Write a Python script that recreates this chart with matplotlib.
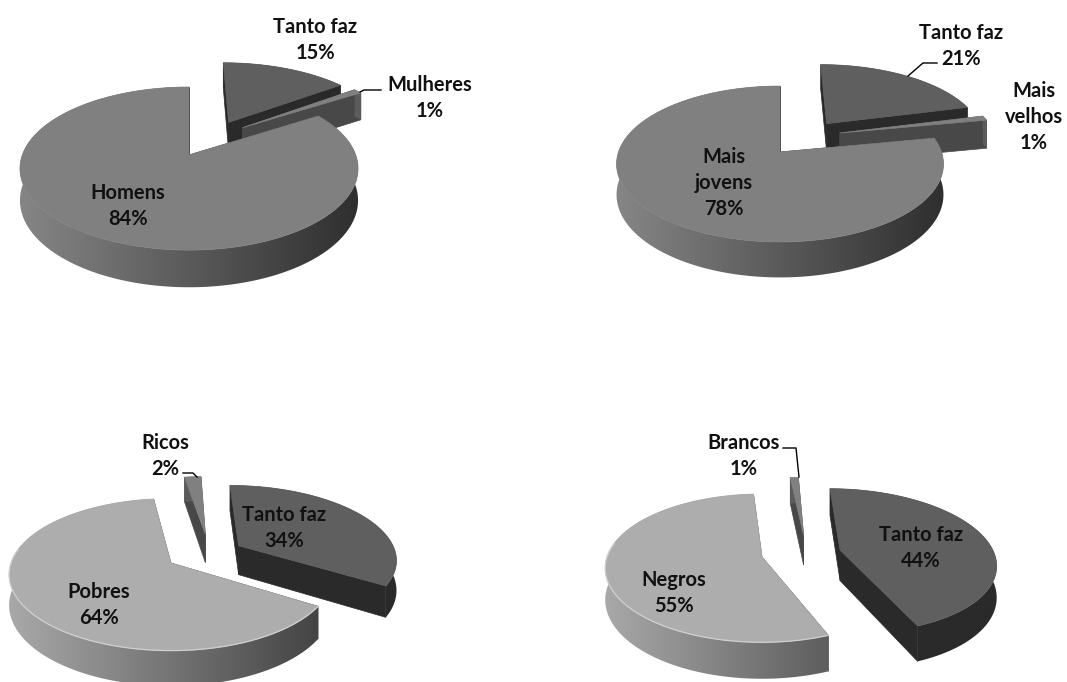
import numpy as np
import matplotlib
matplotlib.use("Agg")
import matplotlib.pyplot as plt
from matplotlib.colors import LinearSegmentedColormap
from matplotlib.patches import Polygon

plt.rcParams['font.family'] = ['Lato', 'DejaVu Sans']

# values of the four pies, clockwise from the top
cats_genero = ["Tanto faz", "Mulheres", "Homens"]
vals_genero = [15, 1, 84]
cats_idade = ["Tanto faz", "Mais\nvelhos", "Mais\njovens"]
vals_idade = [21, 1, 78]
cats_renda = ["Tanto faz", "Pobres", "Ricos"]
vals_renda = [34, 64, 2]
cats_cor = ["Tanto faz", "Negros", "Brancos"]
vals_cor = [44, 55, 1]

DARK = dict(top="#5f5f5f", left="#2a2a2a", right="#2a2a2a", cut="#2a2a2a", glow=None)
MID = dict(top="#808080", left="#858585", right="#2f2f2f", cut="#3a3a3a", glow=None)
LIGHT = dict(top="#adadad", left="#a8a8a8", right="#404040", cut="#404040", glow="#d0d0d0")
THIN = dict(top="#808080", left="#5c5c5c", right="#5c5c5c", cut="#484848", glow=None)

# cx, cy = apex of the pie, R/r = radii, k = perspective, h = thickness
# each slice: style, explode distance, explode direction (None = bisector)
pies = [
    dict(cats=cats_genero, vals=vals_genero, cx=189, cy=155, R=166.7, r=79.3, k=0.166, h=31,
         slices=[(DARK, 0.51, 30), (THIN, 0.5, 43), (MID, 0, None)], order=[0, 1, 2],
         text=[(315, 40), (430, 98), (128, 206)]),
    dict(cats=cats_idade, vals=vals_idade, cx=780, cy=152, R=161.5, r=76.1, k=0.154, h=30,
         slices=[(DARK, 0.5, None), (THIN, 0.465, 56), (MID, 0, None)], order=[0, 1, 2],
         text=[(961, 46), (1034, 117), (724, 183)]),
    dict(cats=cats_renda, vals=vals_renda, cx=171, cy=563, R=160, r=74.3, k=0.152, h=30,
         slices=[(DARK, 0.5, None), (LIGHT, 0, None), (THIN, 0.47, 29)], order=[2, 0, 1],
         text=[(284, 528), (99, 605), (165, 456)]),
    dict(cats=cats_cor, vals=vals_cor, cx=762, cy=557, R=155, r=72.5, k=0.15, h=31,
         slices=[(DARK, 0.52, None), (LIGHT, 0, None), (THIN, 0.42, 42)], order=[2, 0, 1],
         text=[(921, 548), (674, 593), (744, 456)]),
]

leaders = [
    ([360, 364, 381], [92, 90, 90]),
    ([908, 923, 937], [76, 63, 63]),
    ([183, 193, 197], [473, 473, 477]),
    ([783, 796, 799], [448, 448, 477]),
]


def project(p, X, Y):
    den = 1 + p["k"] * Y
    return p["cx"] + p["R"] * X / den, p["cy"] - p["r"] * Y / den, p["h"] / den


def draw_slice(ax, p, t0, t1, style, d, direction, z):
    mid = (t0 + t1) / 2 if direction is None else direction
    ox = d * np.sin(np.radians(mid))
    oy = d * np.cos(np.radians(mid))
    t = np.radians(np.linspace(t0, t1, max(int(t1 - t0), 2) + 1))
    x, y, dep = project(p, ox + np.sin(t), oy + np.cos(t))
    ax0, ay0, adep = project(p, ox, oy)

    # cut faces
    for i in (0, -1):
        ax.fill([ax0, x[i], x[i], ax0], [ay0, y[i], y[i] + dep[i], ay0 + adep],
                color=style["cut"], lw=0.5, zorder=z)
    # outer wall, shaded from left to right across the pie
    cmap = LinearSegmentedColormap.from_list("wall", [style["left"], style["right"]])
    wall = np.c_[np.r_[x, x[::-1]], np.r_[y, (y + dep)[::-1]]]
    clip = Polygon(wall, closed=True, transform=ax.transData, fc="none", ec="none")
    ax.add_patch(clip)
    x0, x1 = x.min() - 2, x.max() + 2
    shade = np.clip((np.linspace(x0, x1, 512) - (p["cx"] - p["R"])) / (2 * p["R"]), 0, 1)
    im = ax.imshow(shade[None, :], cmap=cmap, vmin=0, vmax=1, aspect="auto", zorder=z + 1,
                   extent=(x0, x1, y.max() + dep.max() + 1, y.min() - 1))
    im.set_clip_path(clip)
    # top
    ax.fill(np.r_[ax0, x], np.r_[ay0, y], color=style["top"], lw=0.5, zorder=z + 2)
    if style["glow"]:
        front = np.cos(t) + oy < 0.2
        ax.plot(x[front], y[front], color=style["glow"], lw=0.9, zorder=z + 3)


fig = plt.figure(figsize=(10.67, 6.82), dpi=100)
ax = fig.add_axes([0, 0, 1, 1])

for p in pies:
    edges = np.r_[0, np.cumsum(p["vals"])] * 3.6
    for n, i in enumerate(p["order"]):
        style, d, direction = p["slices"][i]
        draw_slice(ax, p, edges[i], edges[i + 1], style, d, direction, 1 + n * 4)
    for cat, val, pos in zip(p["cats"], p["vals"], p["text"]):
        ax.text(pos[0], pos[1], f"{cat}\n{val}%", ha="center", va="center", fontsize=14.5,
                fontweight="bold", color="#111111", linespacing=1.35, zorder=20)

for lx, ly in leaders:
    ax.plot(lx, ly, color="black", lw=1.0, zorder=19)

ax.set_xlim(0, 1067)
ax.set_ylim(682, 0)
ax.axis("off")

fig.savefig("out.png", dpi=100)
